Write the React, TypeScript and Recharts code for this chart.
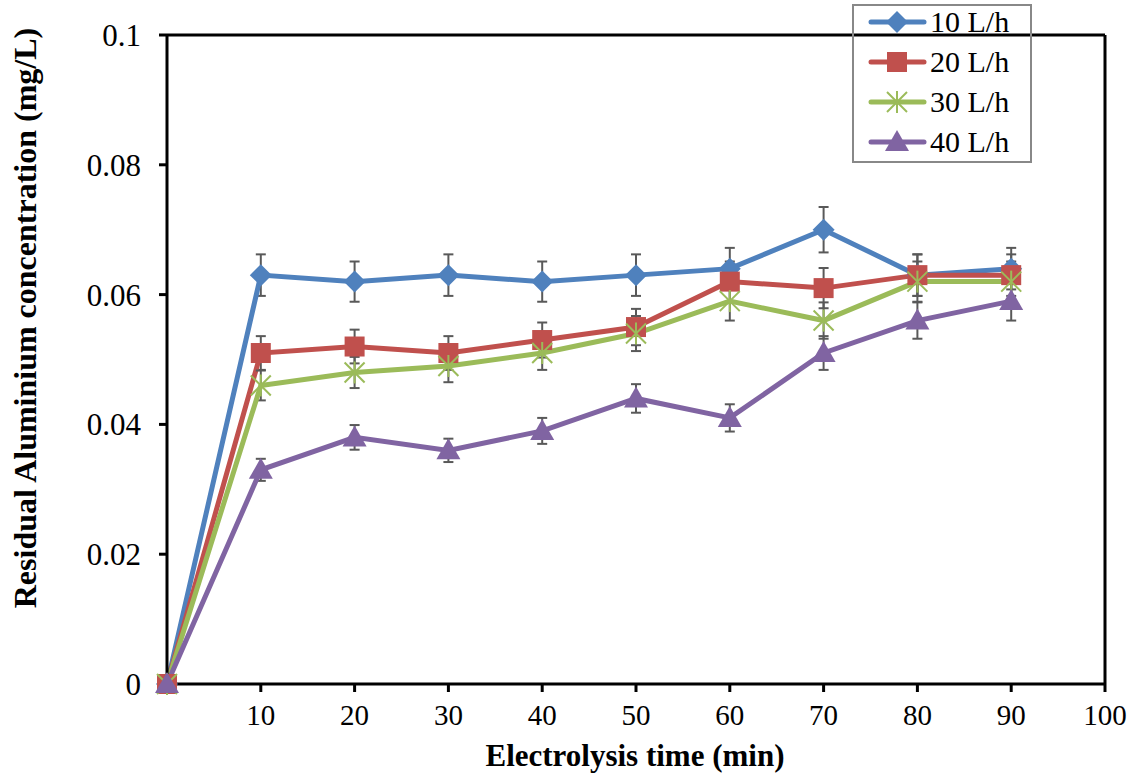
import React from 'react';
import { LineChart, Line, XAxis, YAxis, ErrorBar, ReferenceLine, Legend, Label } from 'recharts';

// electrolysis time (min)
const times = [0, 10, 20, 30, 40, 50, 60, 70, 80, 90];

// residual Al (mg/L) per flow rate
const flow10 = [0, 0.063, 0.062, 0.063, 0.062, 0.063, 0.064, 0.07, 0.063, 0.064];
const flow20 = [0, 0.051, 0.052, 0.051, 0.053, 0.055, 0.062, 0.061, 0.063, 0.063];
const flow30 = [0, 0.046, 0.048, 0.049, 0.051, 0.054, 0.059, 0.056, 0.062, 0.062];
const flow40 = [0, 0.033, 0.038, 0.036, 0.039, 0.044, 0.041, 0.051, 0.056, 0.059];

// error bar half-heights
const err10 = [0, 0.0032, 0.0031, 0.0032, 0.0031, 0.0032, 0.0032, 0.0035, 0.0032, 0.0032];
const err20 = [0, 0.0026, 0.0026, 0.0026, 0.0027, 0.0028, 0.0031, 0.0031, 0.0032, 0.0032];
const err30 = [0, 0.0023, 0.0024, 0.0025, 0.0026, 0.0027, 0.003, 0.0028, 0.0031, 0.0031];
const err40 = [0, 0.0017, 0.0019, 0.0018, 0.002, 0.0022, 0.0021, 0.0026, 0.0028, 0.003];

const xTicks = [10, 20, 30, 40, 50, 60, 70, 80, 90, 100];
const yTicks = [0, 0.02, 0.04, 0.06, 0.08, 0.1];

const FONT = '"Liberation Serif", "Times New Roman", serif';

const data = times.map((t, i) => ({
  t,
  f10: flow10[i], e10: err10[i],
  f20: flow20[i], e20: err20[i],
  f30: flow30[i], e30: err30[i],
  f40: flow40[i], e40: err40[i],
}));

const series = [
  { key: 'f10', err: 'e10', name: '10 L/h', color: '#4F81BD', shape: 'diamond' },
  { key: 'f20', err: 'e20', name: '20 L/h', color: '#C0504D', shape: 'square' },
  { key: 'f30', err: 'e30', name: '30 L/h', color: '#9BBB59', shape: 'star' },
  { key: 'f40', err: 'e40', name: '40 L/h', color: '#8064A2', shape: 'triangle' },
];

const Marker = ({ cx, cy, shape, color }: { cx: number; cy: number; shape: string; color: string }) => {
  if (shape === 'diamond') {
    const r = 11;
    return <path d={`M${cx},${cy - r}L${cx + r},${cy}L${cx},${cy + r}L${cx - r},${cy}Z`} fill={color} />;
  }
  if (shape === 'square') {
    return <rect x={cx - 10} y={cy - 10} width={20} height={20} fill={color} />;
  }
  if (shape === 'star') {
    const r = 10;
    return (
      <g stroke={color} strokeWidth={2}>
        <line x1={cx - r} y1={cy - r} x2={cx + r} y2={cy + r} />
        <line x1={cx - r} y1={cy + r} x2={cx + r} y2={cy - r} />
        <line x1={cx} y1={cy - r - 1} x2={cx} y2={cy + r + 1} />
      </g>
    );
  }
  return <path d={`M${cx},${cy - 12}L${cx + 12},${cy + 9}L${cx - 12},${cy + 9}Z`} fill={color} />;
};

const LegendBox = () => (
  <div
    style={{
      width: 176,
      height: 155,
      border: '2px solid #888',
      fontFamily: FONT,
      fontSize: 30,
      color: '#000',
      boxSizing: 'content-box',
    }}
  >
    {series.map((s, i) => (
      <div key={s.key} style={{ position: 'absolute', left: 0, top: 0 + i * 40, height: 36, display: 'flex', alignItems: 'center' }}>
        <svg width={78} height={36}>
          <line x1={19} y1={18} x2={72} y2={18} stroke={s.color} strokeWidth={5} strokeLinecap="round" />
          <Marker cx={45} cy={18} shape={s.shape} color={s.color} />
        </svg>
        <span style={{ lineHeight: '36px' }}>{s.name}</span>
      </div>
    ))}
  </div>
);

export default function App() {
  return (
    <div style={{ position: 'absolute', left: 0, top: 0, width: 1138, height: 783, background: '#fff' }}>
      <LineChart width={1138} height={783} data={data} margin={{ top: 35, right: 33, bottom: 59, left: 107 }}>
        <XAxis
          dataKey="t"
          type="number"
          domain={[0, 100]}
          ticks={xTicks}
          interval={0}
          axisLine={{ stroke: '#000', strokeWidth: 3 }}
          tickLine={{ stroke: '#000', strokeWidth: 3 }}
          tickSize={8}
          tickMargin={12}
          height={40}
          tick={{ fontFamily: FONT, fontSize: 29, fill: '#000' }}
        >
          <Label
            content={() => (
              <text x={635} y={766} textAnchor="middle" fontFamily={FONT} fontSize={31} fontWeight="bold" fill="#000">
                Electrolysis time (min)
              </text>
            )}
          />
        </XAxis>
        <YAxis
          type="number"
          domain={[0, 0.1]}
          ticks={yTicks}
          interval={0}
          width={60}
          axisLine={{ stroke: '#000', strokeWidth: 3 }}
          tickLine={{ stroke: '#000', strokeWidth: 3 }}
          tickSize={8}
          tickMargin={18}
          tick={{ fontFamily: FONT, fontSize: 31, fill: '#000' }}
        >
          <Label
            content={() => (
              <text
                x={36}
                y={318}
                transform="rotate(-90 36 318)"
                textAnchor="middle"
                fontFamily={FONT}
                fontSize={32}
                fontWeight="bold"
                fill="#000"
              >
                Residual Aluminium concentration (mg/L)
              </text>
            )}
          />
        </YAxis>
        <ReferenceLine y={0.1} stroke="#000" strokeWidth={3} />
        <ReferenceLine x={100} stroke="#000" strokeWidth={3} />
        {series.map((s) => (
          <Line
            key={s.key}
            dataKey={s.key}
            name={s.name}
            stroke={s.color}
            strokeWidth={5}
            isAnimationActive={false}
            dot={(p: any) => <Marker key={`${s.key}-${p.index}`} cx={p.cx} cy={p.cy} shape={s.shape} color={s.color} />}
            activeDot={false}
          >
            <ErrorBar dataKey={s.err} stroke="#595959" strokeWidth={2} width={5} direction="y" />
          </Line>
        ))}
        <Legend
          layout="vertical"
          align="center"
          verticalAlign="middle"
          content={() => <LegendBox />}
          wrapperStyle={{ left: 852, top: 4, width: 180, height: 159 }}
        />
      </LineChart>
    </div>
  );
}
